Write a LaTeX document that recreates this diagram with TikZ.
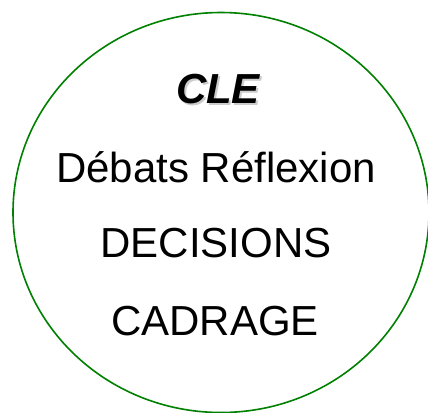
\documentclass[tikz,border=0pt]{standalone}
\usepackage{fontspec}
\setmainfont{Liberation Sans}
\definecolor{vertcle}{RGB}{0,128,0}
\tikzset{
  mot/.style={font=\fontsize{31.5}{38}\selectfont, anchor=base, inner sep=0pt},
  titre/.style={mot, font=\fontsize{31.5}{38}\selectfont\bfseries\itshape}
}
\begin{document}
\begin{tikzpicture}[x=0.75pt,y=-0.75pt]
\useasboundingbox (0,0) rectangle (428,412);
\draw[vertcle, line width=1.2pt] (221,212.5) ellipse [x radius=156pt, y radius=150pt];
\node[titre, text=black!20] (cleombre) at (220,105) {CLE};
\node[titre] (cle) at (218,103) {CLE};
\node[mot] (debats) at (216,182) {Débats Réflexion};
\node[mot] (decisions) at (216,257) {DECISIONS};
\node[mot] (cadrage) at (215,335) {CADRAGE};
\end{tikzpicture}
\end{document}
